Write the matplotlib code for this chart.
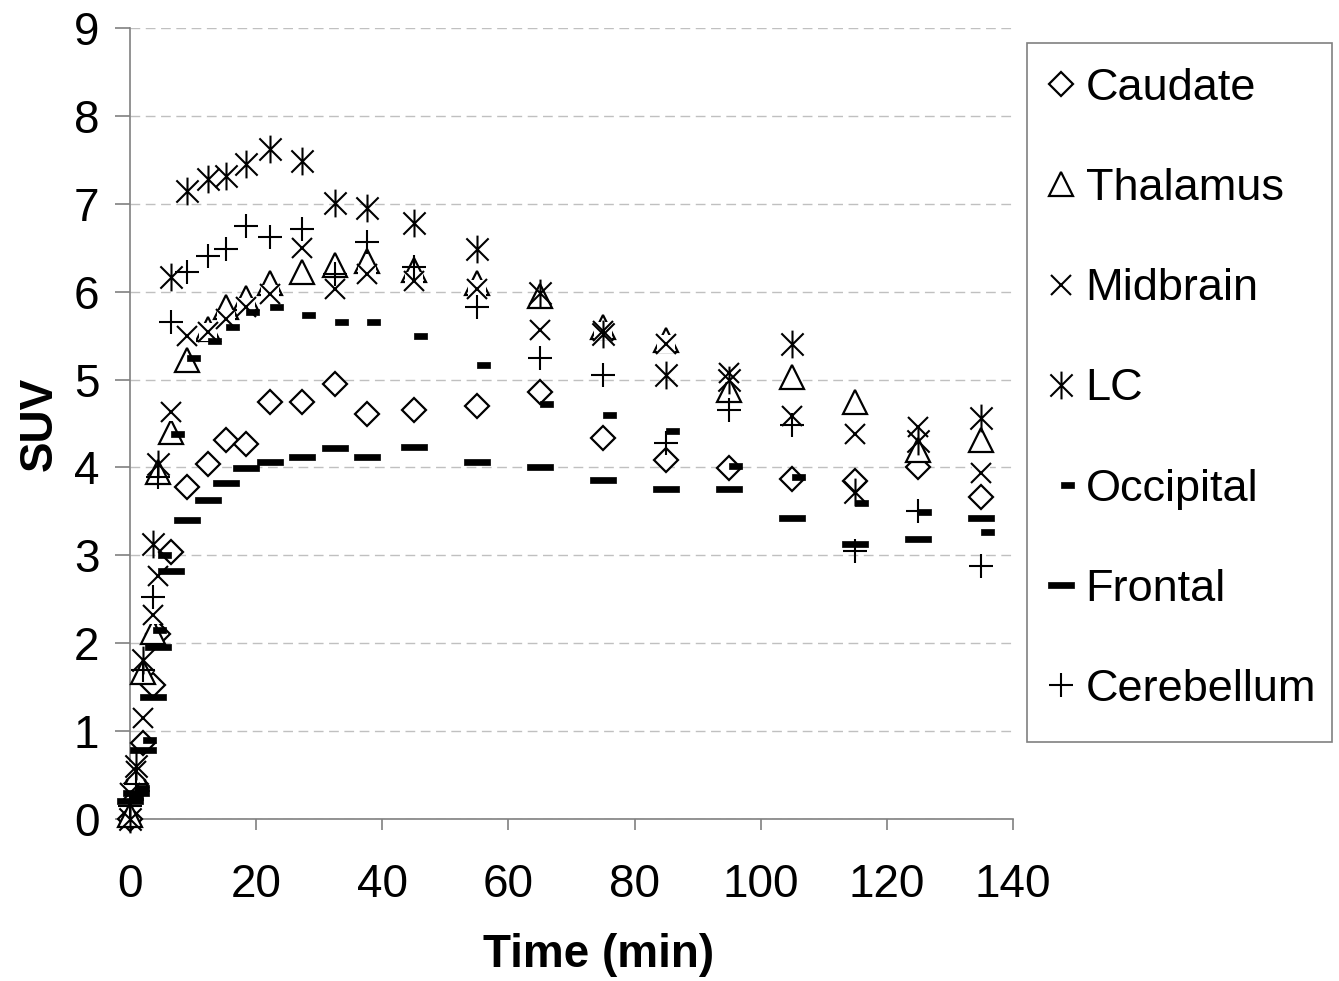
import matplotlib
matplotlib.use('Agg')
import matplotlib.pyplot as plt
from matplotlib.lines import Line2D
from matplotlib.path import Path
from matplotlib.patches import Rectangle

plt.rcParams['font.family'] = ['Liberation Sans', 'DejaVu Sans']

# sampling times (min)
times = [0, 1, 2.1, 3.6, 4.4, 6.5, 9.1, 12.4, 15.2, 18.4, 22.2, 27.3, 32.5, 37.6,
         45, 55, 65, 75, 85, 95, 105, 115, 125, 135]

caudate = [0.0, 0.4, 0.86, 1.52, 2.1, 3.04, 3.78, 4.04, 4.31, 4.27, 4.74, 4.74, 4.95, 4.61,
           4.65, 4.70, 4.86, 4.34, 4.08, 3.99, 3.87, 3.85, 4.00, 3.66]
thalamus = [0.05, 0.5, 1.67, 2.13, 3.95, 4.40, 5.22, 5.58, 5.82, 5.93, 6.10, 6.22, 6.30, 6.35,
            6.25, 6.10, 5.95, 5.60, 5.45, 4.88, 5.03, 4.74, 4.20, 4.31]
midbrain = [0.3, 0.55, 1.15, 2.32, 2.77, 4.63, 5.50, 5.54, 5.69, 5.82, 5.97, 6.50, 6.03, 6.20,
            6.12, 6.03, 5.56, 5.55, 5.41, 5.08, 4.59, 4.38, 4.46, 3.94]
lc = [0.0, 0.6, 1.81, 3.13, 4.04, 6.17, 7.15, 7.28, 7.32, 7.45, 7.62, 7.49, 7.01, 6.95,
      6.78, 6.49, 5.99, 5.52, 5.05, 5.00, 5.41, 3.72, 4.30, 4.56]
occipital = [0.25, 0.35, 0.9, 2.15, 3.0, 4.38, 5.24, 5.44, 5.60, 5.77, 5.83, 5.73, 5.66, 5.66,
             5.49, 5.17, 4.72, 4.60, 4.42, 4.02, 3.89, 3.60, 3.49, 3.26]
frontal = [0.2, 0.3, 0.78, 1.39, 1.96, 2.82, 3.40, 3.63, 3.82, 3.99, 4.06, 4.12, 4.22, 4.12,
           4.23, 4.06, 4.00, 3.86, 3.76, 3.76, 3.42, 3.13, 3.19, 3.42]
cerebellum = [0.15, 0.4, 1.7, 2.53, 3.89, 5.65, 6.22, 6.41, 6.49, 6.75, 6.62, 6.71, 6.20, 6.56,
              6.28, 5.82, 5.24, 5.05, 4.28, 4.65, 4.48, 3.05, 3.51, 2.88]

labels = ['Caudate', 'Thalamus', 'Midbrain', 'LC', 'Occipital', 'Frontal', 'Cerebellum']

# custom marker shapes
asterisk = Path([(0, -1), (0, 1), (-0.8, -0.8), (0.8, 0.8), (-0.8, 0.8), (0.8, -0.8)],
                [Path.MOVETO, Path.LINETO, Path.MOVETO, Path.LINETO, Path.MOVETO, Path.LINETO])
short_dash = Path([(0, -0.2), (1, -0.2), (1, 0.2), (0, 0.2), (0, -0.2)],
                  [Path.MOVETO, Path.LINETO, Path.LINETO, Path.LINETO, Path.CLOSEPOLY])
long_dash = Path([(-1, -0.23), (1, -0.23), (1, 0.23), (-1, 0.23), (-1, -0.23)],
                 [Path.MOVETO, Path.LINETO, Path.LINETO, Path.LINETO, Path.CLOSEPOLY])

styles = [
    dict(marker='D', markersize=12.5, markerfacecolor='white', markeredgecolor='black', markeredgewidth=1.6),
    dict(marker='^', markersize=17, markerfacecolor='white', markeredgecolor='black', markeredgewidth=1.6),
    dict(marker='x', markersize=15, markeredgecolor='black', markeredgewidth=1.5),
    dict(marker=asterisk, markersize=20, markerfacecolor='none', markeredgecolor='black', markeredgewidth=1.5),
    dict(marker=short_dash, markersize=19, markerfacecolor='black', markeredgecolor='black', markeredgewidth=0.5),
    dict(marker=long_dash, markersize=19, markerfacecolor='black', markeredgecolor='black', markeredgewidth=0.5),
    dict(marker='+', markersize=17, markeredgecolor='black', markeredgewidth=1.5),
]

series = [caudate, thalamus, midbrain, lc, occipital, frontal, cerebellum]

fig = plt.figure(figsize=(13.39, 9.81), dpi=100)
ax = fig.add_axes([130 / 1339, 1 - 819 / 981, (1013 - 130) / 1339, (819 - 28) / 981])

for i, (vals, st, lab) in enumerate(zip(series, styles, labels)):
    if lab == 'Midbrain':
        # the x markers carry a white background box, like the original
        ax.plot(times, vals, linestyle='none', marker='s', markersize=13.5,
                markerfacecolor='white', markeredgewidth=0, zorder=5 + i * 0.1 - 0.05, clip_on=False)
    ax.plot(times, vals, linestyle='none', label=lab, zorder=5 + i * 0.1, clip_on=False, **st)

ax.set_xlim(0, 140)
ax.set_ylim(0, 9)
ax.set_xticks(range(0, 141, 20))
ax.set_yticks(range(0, 10))
ax.grid(axis='y', linestyle=(0, (7, 4)), color='#c0c0c0', linewidth=1.0, zorder=0)
ax.set_axisbelow(True)

for s in ['top', 'right']:
    ax.spines[s].set_visible(False)
for s in ['left', 'bottom']:
    ax.spines[s].set_color('#808080')
    ax.spines[s].set_linewidth(1.2)
ax.tick_params(axis='both', direction='out', width=1.2, color='#808080', labelsize=33)
ax.tick_params(axis='y', length=11, pad=11)
ax.tick_params(axis='x', length=8, pad=24)

ax.set_xlabel('Time (min)', fontsize=33, fontweight='bold')
ax.xaxis.set_label_coords(0.531, -0.144)
ax.set_ylabel('SUV', fontsize=33, fontweight='bold', labelpad=9)

# Legend: frame drawn separately so its box matches the original
frame = Rectangle((1027 / 1339, 1 - 742 / 981), (1332 - 1027) / 1339, (742 - 43) / 981,
                  transform=fig.transFigure, facecolor='white', edgecolor='#808080', linewidth=1.2)
fig.patches.append(frame)

legend_elements = [Line2D([0], [0], linestyle='none', label=lab, **st) for lab, st in zip(labels, styles)]
leg = fig.legend(handles=legend_elements, loc='upper left',
                 bbox_to_anchor=(1027 / 1339, 1 - 50 / 981), bbox_transform=fig.transFigure,
                 fontsize=32.5, frameon=False,
                 borderpad=0.4, labelspacing=1.31, handlelength=0.7, handletextpad=0.2,
                 borderaxespad=0, numpoints=1)

plt.savefig('out.png', dpi=100)
plt.close()
